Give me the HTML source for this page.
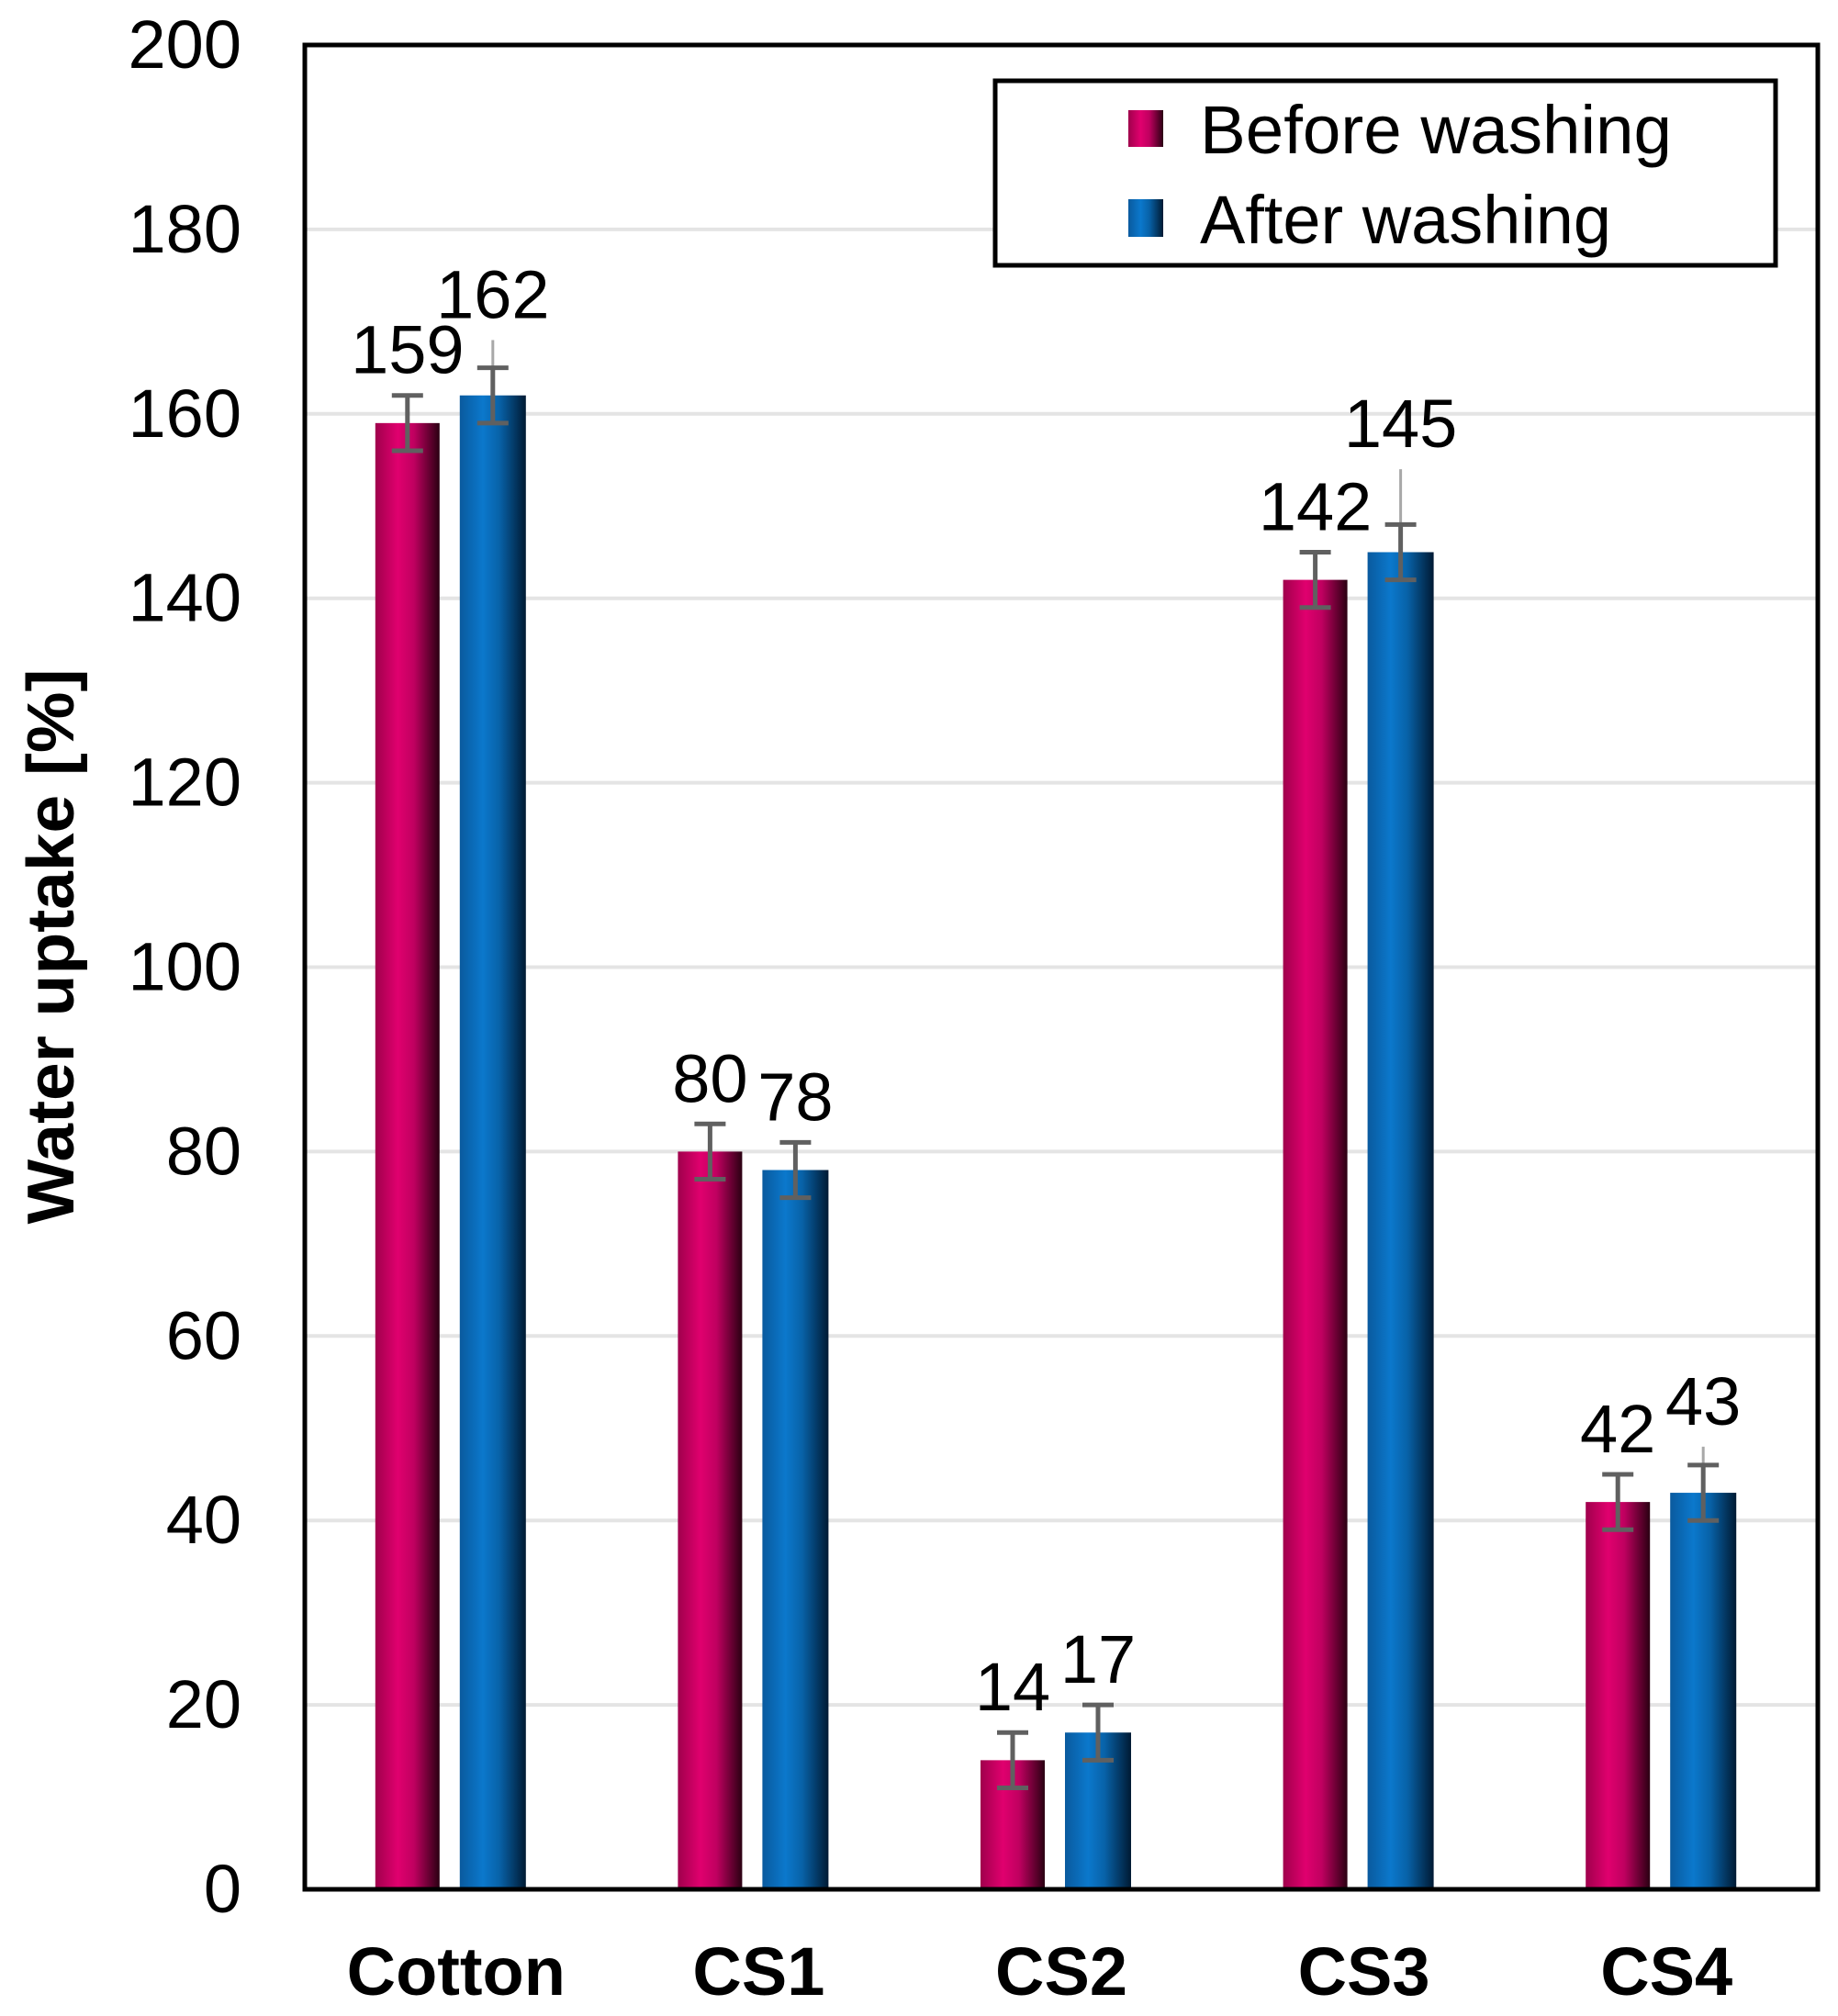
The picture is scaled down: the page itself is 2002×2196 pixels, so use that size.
<!DOCTYPE html>
<html><head><meta charset="utf-8"><style>
html,body{margin:0;padding:0;background:#fff;}
svg{display:block;font-family:"Liberation Sans",Arial,sans-serif;}
</style></head><body>
<svg id="chart" width="2002" height="2196" viewBox="0 0 2002 2196" xmlns="http://www.w3.org/2000/svg">
<defs>
<linearGradient id="gPink" x1="0" x2="1" y1="0" y2="0">
<stop offset="0" stop-color="#a0004c"/><stop offset="0.35" stop-color="#e0006e"/><stop offset="0.6" stop-color="#c00060"/><stop offset="1" stop-color="#2a0012"/>
</linearGradient>
<linearGradient id="gBlue" x1="0" x2="1" y1="0" y2="0">
<stop offset="0" stop-color="#0a5a9e"/><stop offset="0.35" stop-color="#0b78cc"/><stop offset="0.6" stop-color="#0862a8"/><stop offset="1" stop-color="#001a33"/>
</linearGradient>
</defs>
<g id="grid"></g>
<g id="bars"></g>
<g id="labels"></g>
<rect x="332" y="49" width="1648" height="2009" fill="none" stroke="#000" stroke-width="5"/>
<g id="yticks"></g>
<g id="xticks"></g>
<text transform="translate(80,1031) rotate(-90)" text-anchor="middle" font-size="72" font-weight="bold" textLength="605" lengthAdjust="spacingAndGlyphs">Water uptake [%]</text>
<g>
<rect x="1084" y="88" width="850" height="201" fill="#fff" stroke="#000" stroke-width="5"/>
<rect x="1229" y="120" width="38" height="40" fill="url(#gPink)"/>
<text x="1307" y="167" font-size="74" textLength="514" lengthAdjust="spacingAndGlyphs">Before washing</text>
<rect x="1229" y="217" width="38" height="41" fill="url(#gBlue)"/>
<text x="1307" y="265" font-size="74" textLength="448" lengthAdjust="spacingAndGlyphs">After washing</text>
</g>
</svg>
<script>
const categories = ["Cotton","CS1","CS2","CS3","CS4"];
const beforeValues = [159,80,14,142,42];
const afterValues = [162,78,17,145,43];
const beforeErr = [3,3,3,3,3];
const afterErr = [3,3,3,3,3];
const afterUpperWhisker = [168,81,20,154,48];
const yTicks = [0,20,40,60,80,100,120,140,160,180,200];

const NS = "http://www.w3.org/2000/svg";
const plotL = 332, plotR = 1980, plotT = 49, plotB = 2058;
const yMax = 200;
function yScale(v){ return plotB - (v / yMax) * (plotB - plotT); }
function xCenter(i){ return plotL + (plotR - plotL) / categories.length * (i + 0.5); }
function mk(tag, attrs, parent){
  const el = document.createElementNS(NS, tag);
  for (const k in attrs) el.setAttribute(k, attrs[k]);
  parent.appendChild(el);
  return el;
}
const grid = document.getElementById('grid');
const yt = document.getElementById('yticks');
yTicks.forEach(t => {
  if (t > 0 && t < 200) {
    const g = mk('line', {x1: plotL, x2: plotR, y1: yScale(t), y2: yScale(t), stroke: '#e4e4e4', 'stroke-width': 4}, grid);
    
    
  }
  const tx = mk('text', {x: 263, y: yScale(t) + 25, 'text-anchor': 'end', 'font-size': 74}, yt);
  tx.textContent = t;
  
  
});
const bars = document.getElementById('bars');
const labels = document.getElementById('labels');
const xt = document.getElementById('xticks');
function drawBar(i, v, err, ext, x0, w, fill, series){
  const y = yScale(v);
  const r = mk('rect', {x: x0, y: y, width: w, height: plotB - y, fill: fill}, bars);
  
  
  const cx = x0 + w / 2;
  let top = v + err;
  if (ext !== null) {
    const l = mk('line', {x1: cx, x2: cx, y1: yScale(ext), y2: yScale(v), stroke: '#a8a8a8', 'stroke-width': 3}, bars);
    
    
    top = Math.max(top, ext);
  }
  const eg = mk('g', {stroke: '#606060', 'stroke-width': 5}, bars);
  
  
  mk('line', {x1: cx, x2: cx, y1: yScale(v + err), y2: yScale(v - err)}, eg);
  mk('line', {x1: cx - 17, x2: cx + 17, y1: yScale(v + err), y2: yScale(v + err)}, eg);
  mk('line', {x1: cx - 17, x2: cx + 17, y1: yScale(v - err), y2: yScale(v - err)}, eg);
  const t = mk('text', {x: cx, y: yScale(top) - 24, 'text-anchor': 'middle', 'font-size': 74}, labels);
  t.textContent = v;
  
  
}
categories.forEach((c, i) => {
  const cx = xCenter(i);
  drawBar(i, beforeValues[i], beforeErr[i], null, cx - 88, 70, 'url(#gPink)', 'before');
  drawBar(i, afterValues[i], afterErr[i], afterUpperWhisker[i], cx + 4, 72, 'url(#gBlue)', 'after');
  const t = mk('text', {x: cx, y: 2173, 'text-anchor': 'middle', 'font-size': 74, 'font-weight': 'bold'}, xt);
  t.textContent = c;
  
  
});
</script>
</body></html>
